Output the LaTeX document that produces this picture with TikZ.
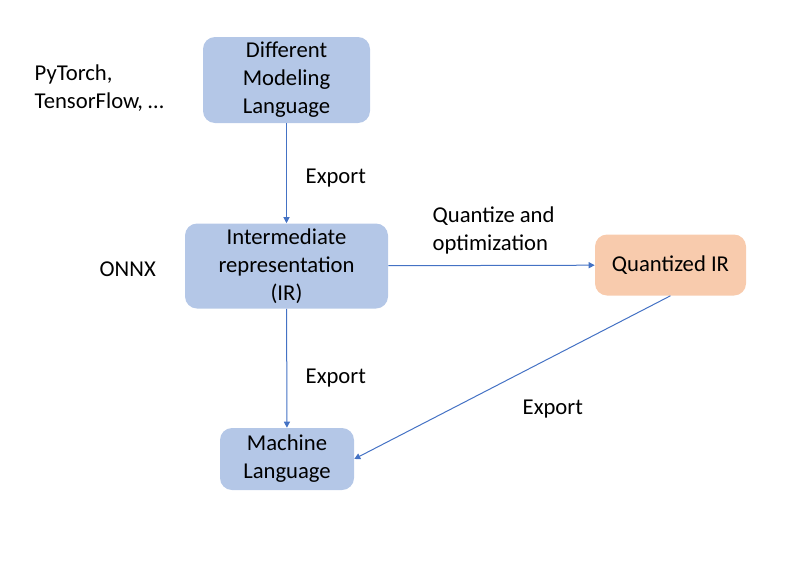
\documentclass[tikz,border=0pt]{standalone}
\usepackage{fontspec}
\setmainfont{Carlito}
\usetikzlibrary{arrows.meta,positioning}
\definecolor{boxblue}{HTML}{B4C7E7}
\definecolor{boxorange}{HTML}{F8CBAD}
\definecolor{linkblue}{HTML}{4472C4}
\tikzset{
	stagebox/.style={fill=boxblue, rounded corners=9pt, align=center, inner sep=0pt},
	irbox/.style={stagebox, fill=boxorange},
	link/.style={draw=linkblue, line width=0.75pt, -{Triangle[length=4.5pt,width=4.5pt]}},
	every node/.style={font=\fontsize{17}{21}\selectfont}
}
\begin{document}
\begin{tikzpicture}[x=0.75pt, y=-0.75pt]
			\useasboundingbox (0,0) rectangle (793,561);
			\node[stagebox, minimum width=125.25pt, minimum height=64.5pt] (dml) at (286.5,80) {Different\\Modeling\\Language};
			\node[stagebox, minimum width=152.25pt, minimum height=63.75pt] (ir) at (286.5,266) {Intermediate\\representation\\(IR)};
			\node[irbox, minimum width=113.25pt, minimum height=45.75pt] (qir) at (670.5,265) {Quantized IR};
			\node[stagebox, minimum width=100.5pt, minimum height=46.5pt] (ml) at (287,459) {Machine\\Language};
			\foreach \coord/\label/\name in {
				{30,88}/{PyTorch,\\TensorFlow, …}/frameworks,
				{95,269}/{ONNX}/onnx,
				{428,230}/{Quantize and\\optimization}/quantlbl,
				{301,178}/{Export}/exportone,
				{301,378}/{Export}/exporttwo,
				{518,409}/{Export}/exportthree
			}{
			\node[anchor=west, align=left] (\name) at (\coord) {\label};
			}
			\draw[link] (dml) -- (ir);
			\draw[link] (ir) -- (ml);
			\draw[link] (ir) -- (qir);
			\draw[link] (qir.south) -- (ml.east);
			\end{tikzpicture}
\end{document}
